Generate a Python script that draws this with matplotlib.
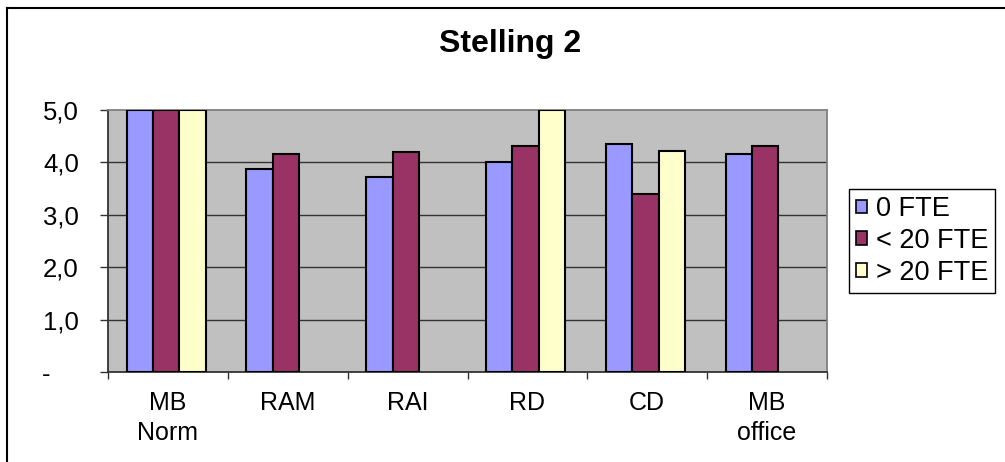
import numpy as np
import matplotlib
matplotlib.use("Agg")
import matplotlib.pyplot as plt
from matplotlib.lines import Line2D
from matplotlib.patches import Patch

plt.rcParams['font.family'] = ['Liberation Sans', 'DejaVu Sans']

categories = ["MB\nNorm", "RAM", "RAI", "RD", "CD", "MB\noffice"]
series_names = ["0 FTE", "< 20 FTE", "> 20 FTE"]
fte_0 = [5.0, 3.88, 3.72, 4.0, 4.35, 4.16]
fte_lt20 = [5.0, 4.16, 4.19, 4.32, 3.40, 4.32]
fte_gt20 = [5.0, np.nan, np.nan, 5.0, 4.22, np.nan]
ytick_vals = [0, 1, 2, 3, 4, 5]
ytick_labels = ["-    ", "1,0", "2,0", "3,0", "4,0", "5,0"]

colors = ["#9999FF", "#993366", "#FFFFCC"]

fig = plt.figure(figsize=(10.05, 4.62), dpi=100)
ax = fig.add_axes([108/1005, 1-372/462, (827-108)/1005, (372-110)/462])
ax.set_facecolor("#C0C0C0")

x = np.arange(len(categories))
w = 0.22
for i, (vals, c, name) in enumerate(zip([fte_0, fte_lt20, fte_gt20], colors, series_names)):
    ax.bar(x + (i - 1) * w - 0.015, vals, width=w, color=c, edgecolor="black",
           linewidth=1.5, label=name, zorder=3)

ax.set_xlim(-0.5, len(categories) - 0.5)
ax.set_ylim(0, 5)

# gridlines at the major y ticks
for yv in ytick_vals[1:-1]:
    ax.axhline(yv, color="#333333", linewidth=1.0, zorder=1)

ax.set_yticks(ytick_vals)
ax.set_yticklabels(ytick_labels)
ax.tick_params(axis="y", direction="out", length=6, width=1, color="#333333",
               labelsize=18.5, pad=15)

ax.set_xticks(x)
ax.set_xticklabels(categories, fontsize=18, linespacing=1.3)
ax.tick_params(axis="x", which="major", length=0, pad=14)
ax.set_xticks(np.arange(len(categories) + 1) - 0.5, minor=True)
ax.tick_params(axis="x", which="minor", direction="out", length=5, width=1, color="#333333")

for s in ["left", "bottom"]:
    ax.spines[s].set_color("#333333")
    ax.spines[s].set_linewidth(1.3)
for s in ["top", "right"]:
    ax.spines[s].set_color("#808080")
    ax.spines[s].set_linewidth(1.3)

fig.text(510/1005, 1-52/462, "Stelling 2", ha="center", va="baseline",
         fontsize=23, fontweight="bold")

handles = [Patch(facecolor=c, edgecolor="black", linewidth=1.2) for c in colors]
leg = fig.legend(handles, series_names, loc="center left",
                 bbox_to_anchor=(849/1005, 1-241/462), fontsize=19.5,
                 frameon=True, fancybox=False, framealpha=1, edgecolor="black",
                 handlelength=0.4, handleheight=0.4, handletextpad=0.35,
                 labelspacing=0.22, borderpad=0.25, borderaxespad=0)
leg.get_frame().set_linewidth(1.0)

# outer chart border (left and top)
fig.add_artist(Line2D([7/1005, 7/1005], [0, 1-8/462], transform=fig.transFigure,
                      color="black", linewidth=1.5))
fig.add_artist(Line2D([7/1005, 1], [1-8/462, 1-8/462], transform=fig.transFigure,
                      color="black", linewidth=1.5))

fig.savefig("out.png", dpi=100)
